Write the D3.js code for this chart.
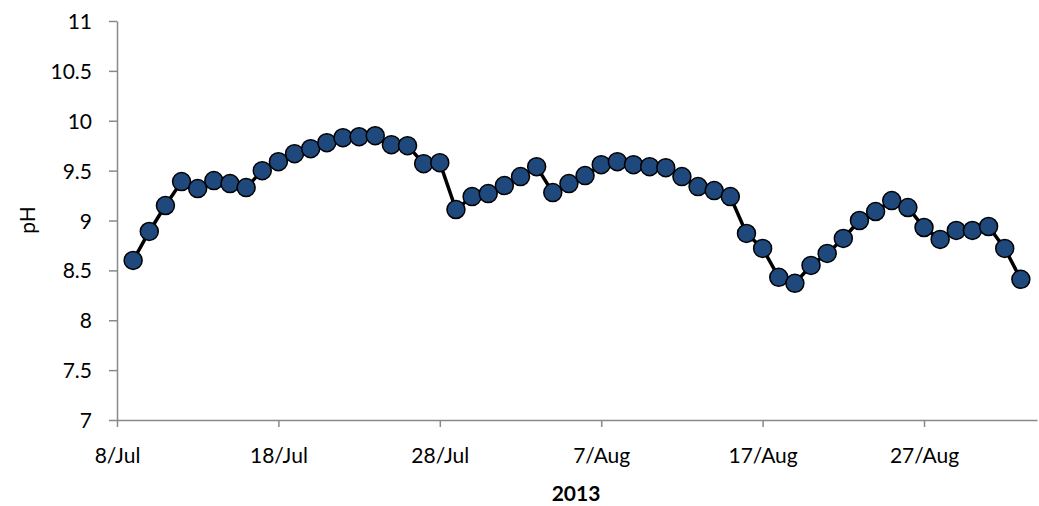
<!DOCTYPE html>
<html><head><meta charset="utf-8">
<script src="https://cdn.jsdelivr.net/npm/d3@7"></script>
<style>body{margin:0;background:#fff}svg{display:block}text{font-family:Lato,"Open Sans",sans-serif}</style>
</head><body><svg id="c" width="1039" height="506"></svg>
<script>
const startDate = "2013-07-09";
const phValues = [8.60,8.89,9.15,9.39,9.32,9.40,9.37,9.33,9.50,9.59,9.67,9.72,9.78,9.83,9.84,9.85,9.76,9.75,9.57,9.58,
  9.11,9.24,9.27,9.35,9.44,9.54,9.28,9.37,9.45,9.56,9.59,9.56,9.54,9.53,9.44,9.34,9.30,9.24,8.87,8.72,
  8.43,8.37,8.55,8.67,8.82,9.00,9.09,9.20,9.13,8.93,8.81,8.90,8.90,8.94,8.72,8.41];
const yTicks = [7,7.5,8,8.5,9,9.5,10,10.5,11];
const xTickDates = ["2013-07-08","2013-07-18","2013-07-28","2013-08-07","2013-08-17","2013-08-27"];
const xDomain = ["2013-07-08","2013-09-03"];
const xTitle = "2013", yTitle = "pH";

const parse = d3.utcParse("%Y-%m-%d");
const t0 = parse(startDate);
const data = phValues.map((v,i)=>({date:d3.utcDay.offset(t0,i), v}));
const fmt = d3.utcFormat("%-d/%b");

const svg = d3.select("#c");
const x = d3.scaleUtc().domain(xDomain.map(parse)).range([117,1037]);
const y = d3.scaleLinear().domain([7,11]).range([420,21]);

const xAxis = svg.append("g").attr("transform","translate(0,420)")
  .call(d3.axisBottom(x).tickValues(xTickDates.map(parse)).tickFormat(fmt).tickSize(7).tickSizeOuter(0));
const yAxis = svg.append("g").attr("transform","translate(117,0)")
  .call(d3.axisLeft(y).tickValues(yTicks).tickFormat(d3.format("")).tickSize(8).tickSizeOuter(0));
[xAxis,yAxis].forEach(g=>{
  g.select(".domain").attr("stroke","#898989").attr("stroke-width",1.5);
  g.selectAll(".tick line").attr("stroke","#898989").attr("stroke-width",1.5);
  g.selectAll(".tick text").attr("fill","#000").style("font-size","21px").style("font-family","Lato,'Open Sans',sans-serif");
});
xAxis.selectAll(".tick text").attr("dy",null).attr("y",43);
yAxis.selectAll(".tick text").attr("x",-25).attr("dy","0.36em");

svg.append("path").datum(data)
  .attr("d",d3.line().x(d=>x(d.date)).y(d=>y(d.v)))
  .attr("fill","none").attr("stroke","#000").attr("stroke-width",3.5);
svg.append("g").selectAll("circle").data(data).join("circle")
  .attr("cx",d=>x(d.date)).attr("cy",d=>y(d.v)).attr("r",9)
  .attr("fill","#1F497D").attr("stroke","#000").attr("stroke-width",1.5);

svg.append("text").attr("x",576).attr("y",501).attr("text-anchor","middle")
  .style("font-size","21px").style("font-weight","bold").text(xTitle);
svg.append("text").attr("transform","translate(35,220) rotate(-90)").attr("text-anchor","middle")
  .style("font-size","21px").text(yTitle);
</script></body></html>
